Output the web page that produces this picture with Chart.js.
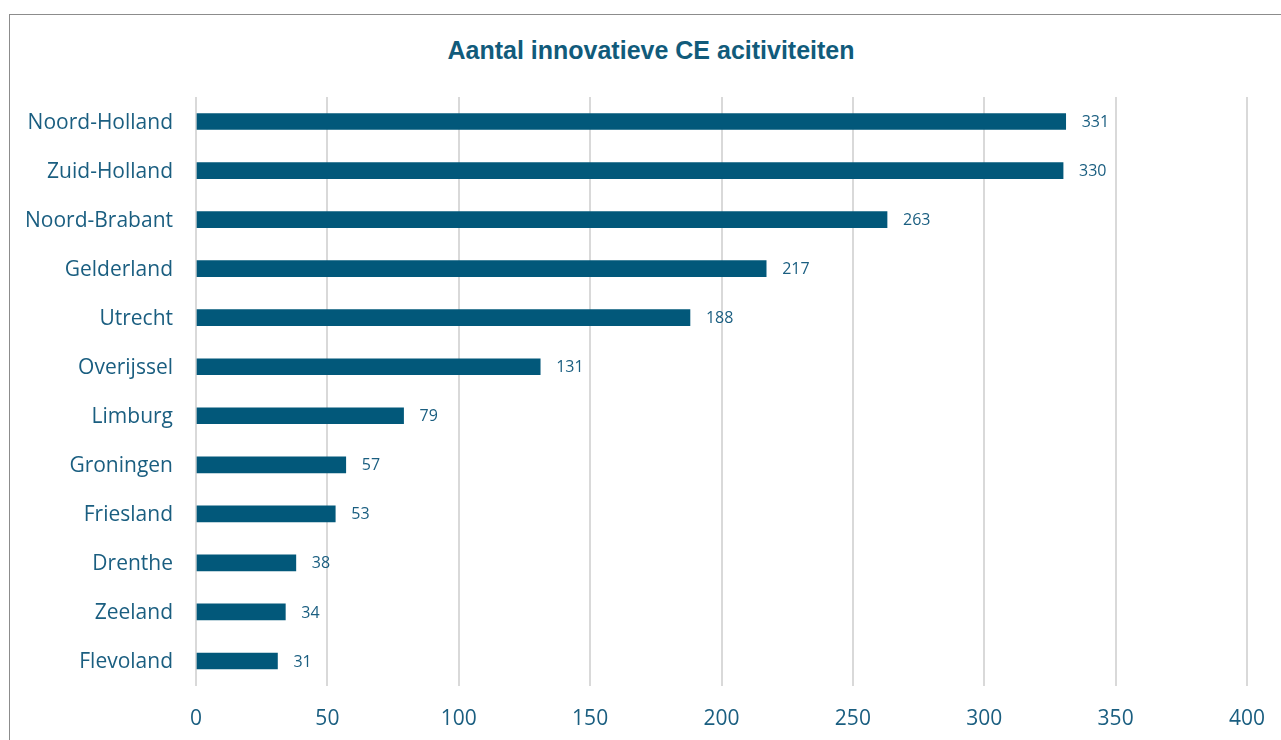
<!DOCTYPE html>
<html>
<head>
<meta charset="utf-8">
<script src="https://cdn.jsdelivr.net/npm/chart.js@4"></script>
<style>
  html, body { margin: 0; padding: 0; background: #fff; overflow: hidden; }
  #wrap { position: relative; width: 1281px; height: 740px; }
  #frame { position: absolute; left: 9px; top: 14px; width: 1300px; height: 760px; border: 1px solid #8c8c8c; box-sizing: border-box; }
  #title { position: absolute; left: 0; width: 1302px; top: 36px; text-align: center;
           font: bold 25px "Liberation Sans", Arial, sans-serif; color: #115b7b; }
  canvas { position: absolute; left: 0; top: 0; }
</style>
</head>
<body>
<div id="wrap">
  <div id="frame"></div>
  <div id="title">Aantal innovatieve CE acitiviteiten</div>
  <canvas id="myChart" width="1281" height="740"></canvas>
</div>
<script>
const provinces = ['Noord-Holland', 'Zuid-Holland', 'Noord-Brabant', 'Gelderland', 'Utrecht', 'Overijssel',
  'Limburg', 'Groningen', 'Friesland', 'Drenthe', 'Zeeland', 'Flevoland']
const activities = [331, 330, 263, 217, 188, 131, 79, 57, 53, 38, 34, 31]
const xTicks = [0, 50, 100, 150, 200, 250, 300, 350, 400]

const textColor = '#1a5e80'

// draws the value next to each bar
const valueLabels = {
  id: 'valueLabels',
  afterDatasetsDraw(chart) {
    const ctx = chart.ctx
    const meta = chart.getDatasetMeta(0)
    ctx.save()
    ctx.font = '16px "Open Sans", sans-serif'
    ctx.fillStyle = textColor
    ctx.textAlign = 'left'
    ctx.textBaseline = 'middle'
    meta.data.forEach((bar, i) => {
      ctx.fillText(activities[i], bar.x + 16, bar.y + 1)
    })
    ctx.restore()
  }
}

const ctx = document.getElementById('myChart');
new Chart(ctx, {
    type: 'bar',
    data: {
      labels: provinces,
      datasets: [{
        data: activities,
        backgroundColor: '#02587a',
        barThickness: 16
      }]
    },
    options: {
        indexAxis: 'y',
        responsive: false,
        animation: false,
        layout: { autoPadding: false, padding: { top: 97, right: 34, left: 0, bottom: 0 } },
        plugins: {
          legend: { display: false },
          tooltip: { enabled: false }
        },
        scales: {
            x: {
                min: 0,
                max: 400,
                afterBuildTicks: (axis) => { axis.ticks = xTicks.map(v => ({ value: v })) },
                afterFit: (axis) => { axis.height = 54.5; axis.paddingLeft = 0; axis.paddingRight = 0 },
                border: { display: false },
                grid: { color: '#d9d9d9', lineWidth: 2, drawTicks: false },
                ticks: {
                    color: textColor,
                    padding: 21,
                    font: { family: '"Open Sans", sans-serif', size: 21 }
                }
            },
            y: {
                afterFit: (axis) => { axis.width = 196 },
                border: { display: false },
                grid: { display: false, drawTicks: false },
                ticks: {
                    color: textColor,
                    padding: 23,
                    labelOffset: 1,
                    font: { family: '"Open Sans", sans-serif', size: 21, lineHeight: 1.05 }
                }
            }
        }
    },
    plugins: [valueLabels]
});
</script>
</body>
</html>
